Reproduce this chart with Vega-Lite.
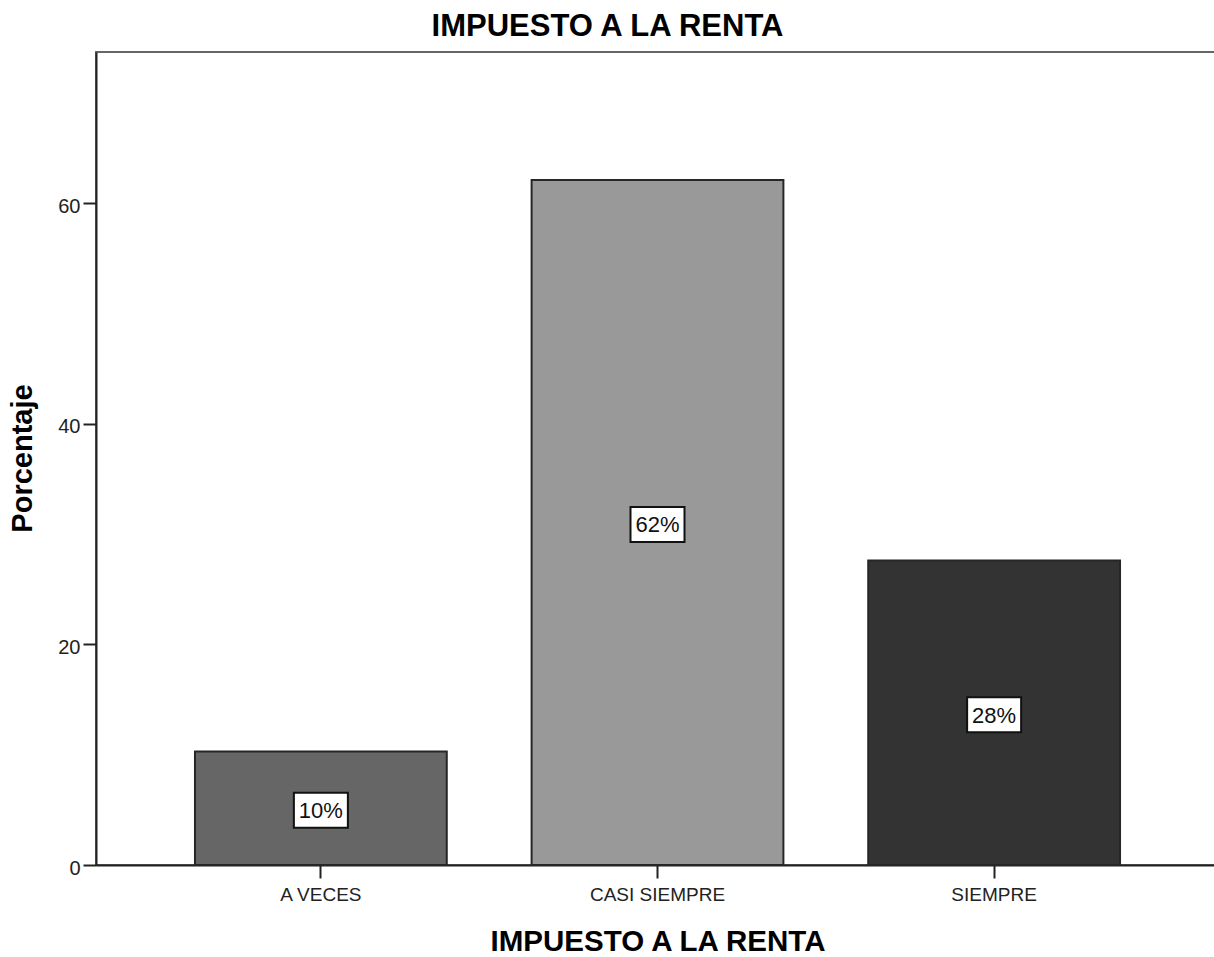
{
  "$schema": "https://vega.github.io/schema/vega-lite/v6.json",
  "autosize": {"type": "none"},
  "padding": {"left": 96, "top": 52, "right": 0, "bottom": 92},
  "width": 1123,
  "height": 813,
  "background": "white",
  "config": {
    "font": "Liberation Sans",
    "view": {"stroke": "#666666", "strokeWidth": 2},
    "axis": {"grid": false}
  },
  "title": {
    "text": "IMPUESTO A LA RENTA",
    "fontSize": 31,
    "fontWeight": "bold",
    "font": "Liberation Sans",
    "color": "#000000",
    "anchor": "middle",
    "dx": -50,
    "offset": 9
  },
  "data": {
    "values": [
      {"categoria": "A VECES", "pct": 10.3},
      {"categoria": "CASI SIEMPRE", "pct": 62.1},
      {"categoria": "SIEMPRE", "pct": 27.6}
    ]
  },
  "transform": [
    {"calculate": "datum.pct / 2", "as": "medio"},
    {"calculate": "format(datum.pct, '.0f') + '%'", "as": "etiqueta"}
  ],
  "encoding": {
    "x": {
      "field": "categoria",
      "type": "nominal",
      "sort": null,
      "scale": {"paddingInner": 0.252, "paddingOuter": 0.294},
      "axis": {
        "title": "IMPUESTO A LA RENTA",
        "titleFontSize": 29.5,
        "titleFontWeight": "bold",
        "titleColor": "#000000",
        "titleBaseline": "alphabetic",
        "titleY": 85,
        "labelAngle": 0,
        "labelFontSize": 19,
        "labelColor": "#222222",
        "labelBaseline": "alphabetic",
        "labelPadding": 22,
        "domainColor": "#222222",
        "domainWidth": 2,
        "tickColor": "#222222",
        "tickWidth": 2,
        "tickSize": 13
      }
    }
  },
  "layer": [
    {
      "mark": {"type": "bar", "stroke": "#262626", "strokeWidth": 2},
      "encoding": {
        "y": {
          "field": "pct",
          "type": "quantitative",
          "scale": {"domain": [0, 73.7], "nice": false, "zero": true},
          "axis": {
            "title": "Porcentaje",
            "titleFontSize": 29,
            "titleFontWeight": "bold",
            "titleColor": "#000000",
            "titleAngle": -90,
            "titleAlign": "center",
            "titleBaseline": "middle",
            "titleX": -74,
            "titleY": 406,
            "values": [0, 20, 40, 60],
            "labelFontSize": 20,
            "labelColor": "#222222",
            "labelPadding": 3,
            "labelOffset": 3,
            "domainColor": "#222222",
            "domainWidth": 2,
            "tickColor": "#222222",
            "tickWidth": 2,
            "tickSize": 13
          }
        },
        "color": {
          "field": "categoria",
          "type": "nominal",
          "scale": {
            "domain": ["A VECES", "CASI SIEMPRE", "SIEMPRE"],
            "range": ["#666666", "#999999", "#333333"]
          },
          "legend": null
        }
      }
    },
    {
      "mark": {
        "type": "point",
        "shape": "M-1,-0.65L1,-0.65L1,0.65L-1,0.65Z",
        "filled": true,
        "fill": "#ffffff",
        "stroke": "#111111",
        "strokeWidth": 2,
        "opacity": 1,
        "size": 2916,
        "yOffset": 2
      },
      "encoding": {
        "y": {"field": "medio", "type": "quantitative"}
      }
    },
    {
      "mark": {
        "type": "text",
        "fontSize": 22,
        "color": "#111111",
        "baseline": "middle",
        "align": "center",
        "yOffset": 3
      },
      "encoding": {
        "y": {"field": "medio", "type": "quantitative"},
        "text": {"field": "etiqueta"}
      }
    }
  ]
}
